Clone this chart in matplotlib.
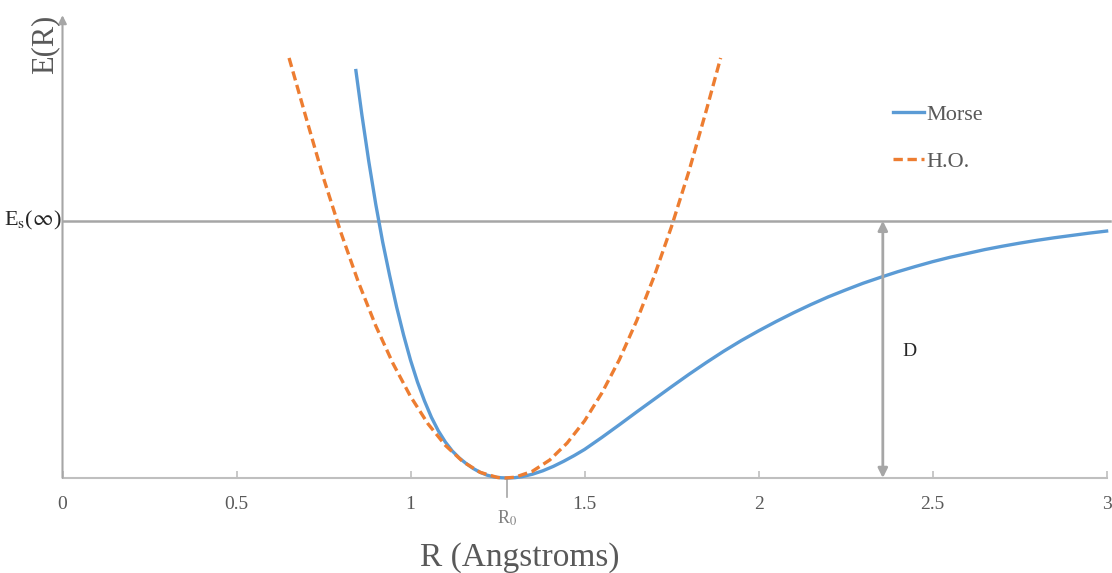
import numpy as np
import matplotlib.pyplot as plt

# Morse curve (R in Angstroms, E in units of D)
morse_r = [0.843, 0.86, 0.88, 0.90, 0.92, 0.94, 0.96, 0.98, 1.00, 1.02, 1.04, 1.06, 1.08,
           1.10, 1.12, 1.14, 1.16, 1.18, 1.20, 1.22, 1.24, 1.26, 1.28,
           1.30, 1.32, 1.35, 1.38, 1.41, 1.44, 1.47, 1.50, 1.55, 1.60, 1.65, 1.70,
           1.75, 1.80, 1.85, 1.90, 1.95, 2.00, 2.05, 2.10, 2.15, 2.20, 2.25, 2.30,
           2.35, 2.40, 2.45, 2.50, 2.55, 2.60, 2.65, 2.70, 2.75, 2.80, 2.85, 2.90,
           2.95, 3.00]
morse_e = [1.584, 1.414, 1.231, 1.065, 0.917, 0.787, 0.665, 0.556, 0.458, 0.373, 0.300, 0.236, 0.183,
           0.140, 0.105, 0.078, 0.056, 0.037, 0.022, 0.011, 0.004, 0.001, 0.0,
           0.0013, 0.005, 0.0146, 0.028, 0.045, 0.065, 0.087, 0.111, 0.158, 0.207, 0.257, 0.306,
           0.355, 0.403, 0.449, 0.493, 0.534, 0.572, 0.608, 0.642, 0.674, 0.704, 0.731, 0.757,
           0.780, 0.802, 0.822, 0.841, 0.858, 0.873, 0.888, 0.901, 0.913, 0.924, 0.934, 0.943,
           0.952, 0.960]

# harmonic oscillator curve
ho_r = [0.651, 0.70, 0.75, 0.80, 0.85, 0.90, 0.95, 1.00, 1.05, 1.10, 1.15, 1.20, 1.25,
        1.272, 1.30, 1.35, 1.40, 1.45, 1.50, 1.55, 1.60, 1.65, 1.70, 1.75, 1.80, 1.85, 1.891]
ho_e = [1.633, 1.400, 1.166, 0.954, 0.762, 0.592, 0.444, 0.317, 0.211, 0.127, 0.064, 0.022, 0.002,
        0.0, 0.003, 0.026, 0.070, 0.136, 0.222, 0.331, 0.460, 0.612, 0.784, 0.978, 1.193, 1.430, 1.633]

xticks = [0, 0.5, 1, 1.5, 2, 2.5, 3]
xtick_labels = ['0', '0.5', '1', '1.5', '2', '2.5', '3']
r0 = 1.277
e_inf = 1.0
d_pos = 2.357

plt.rcParams['font.family'] = ['Liberation Serif', 'DejaVu Serif']
plt.rcParams['mathtext.fontset'] = 'stix'

gray = '#A6A6A6'
txt = '#595959'

fig = plt.figure(figsize=(11.12, 5.73), dpi=100)
ax = fig.add_axes([62.5 / 1112, 95 / 573, (1106.6 - 62.5) / 1112, 463 / 573])
ax.set_xlim(0, 3)
ax.set_ylim(0, 1.80)

for s in ['top', 'right', 'left']:
    ax.spines[s].set_visible(False)
ax.spines['bottom'].set_color('#BFBFBF')
ax.spines['bottom'].set_linewidth(1.5)
ax.set_yticks([])
ax.set_xticks(xticks)
ax.set_xticklabels(xtick_labels, fontsize=14, color=txt)
ax.tick_params(axis='x', direction='in', length=5, width=1.2, color='#BFBFBF', pad=13)

# y axis with arrow
ax.annotate('', xy=(0, 1.81), xytext=(0, -0.01), xycoords='data',
            arrowprops=dict(arrowstyle='-|>', color=gray, lw=1.5, mutation_scale=12),
            annotation_clip=False)

# E_s(inf) line
ax.plot([0, 3.01], [e_inf, e_inf], color=gray, lw=1.8, clip_on=False, zorder=1)

ax.plot(morse_r, morse_e, color='#5B9BD5', lw=2.4, label='Morse', clip_on=False, zorder=3)
ax.plot(ho_r, ho_e, color='#ED7D31', lw=2.4, ls=(0, (2.8, 1.4)), label='H.O.', clip_on=False, zorder=3)

# D arrow
ax.annotate('', xy=(d_pos, e_inf), xytext=(d_pos, 0),
            arrowprops=dict(arrowstyle='<|-|>', color=gray, lw=2, mutation_scale=14,
                            shrinkA=0, shrinkB=0))
ax.text(d_pos + 0.055, 0.49, 'D', fontsize=14, color='#262626', va='center', ha='left')

# R0 marker
ax.plot([r0, r0], [0, -0.075], color=gray, lw=1.2, clip_on=False)
ax.text(r0, -0.155, r'R$_0$', fontsize=13, color='#7F7F7F', ha='center', va='center')

ax.text(-0.003, e_inf, r'E$_{\mathrm{s}}$($\infty$)', fontsize=16, color='#262626',
        ha='right', va='center')
ax.text(-0.05, 1.80, 'E(R)', fontsize=22, color=txt, rotation=90, ha='center', va='top')
ax.text(1.315, -0.31, 'R (Angstroms)', fontsize=24, color=txt, ha='center', va='center')

ax.legend(loc='upper left', bbox_to_anchor=(0.776, 0.85), frameon=False, fontsize=16,
          labelcolor=txt, handlelength=1.4, handletextpad=0.1, labelspacing=1.2)

fig.savefig('out.png', dpi=100)
